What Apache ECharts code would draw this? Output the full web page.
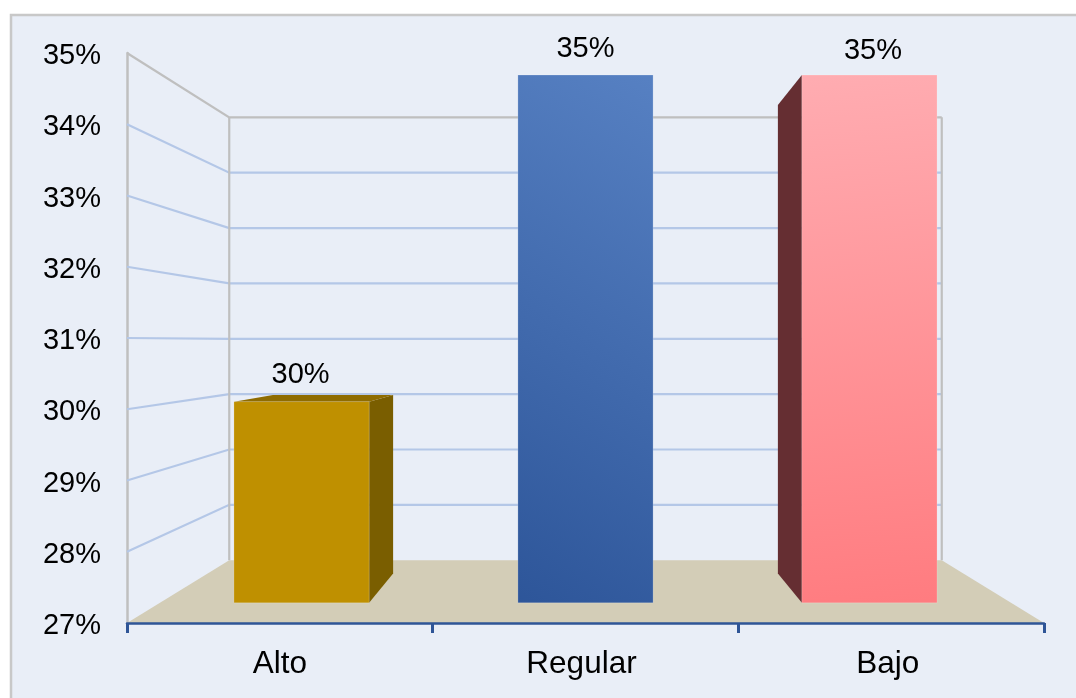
<!DOCTYPE html>
<html><head><meta charset="utf-8">
<style>html,body{margin:0;padding:0;background:#fff}#c{width:1076px;height:698px}</style>
<script src="https://cdn.jsdelivr.net/npm/echarts@6/dist/echarts.min.js"></script>
</head><body><div id="c"></div>
<script>
const categories = ['Alto', 'Regular', 'Bajo'];
const values = [30.05, 35, 35];
const valueLabels = ['30%', '35%', '35%'];
const wallTicks = [28, 29, 30, 31, 32, 33, 34, 35];
const axisMin = 27, axisMax = 35;

const FONT = '"Liberation Sans", Arial, sans-serif';
const WALL_S = 0.777, VP_Y_FRAC = 0.4939;
const BAR_FRONT = [0.929, 0.926], BAR_BACK = [0.826, 0.822], BAR_Y_SHIFT = 0.7;
const BAR_W = 0.476;
const LABEL_DX = [-1, 0, 3.5], LABEL_DY = [-27, -26.5, -24];

function vp(cs) { return [cs.x + cs.width / 2, cs.y + cs.height * (1 - VP_Y_FRAC)]; }
function proj(p, v, s) { return [v[0] + (p[0] - v[0]) * s, v[1] + (p[1] - v[1]) * s]; }
function proj2(p, v, s) { return [v[0] + (p[0] - v[0]) * s[0], v[1] + (p[1] - v[1]) * s[1] + BAR_Y_SHIFT]; }

const barFills = [
  { front: '#BF9000', side: '#7A5E00', top: '#8F6C00' },
  { front: { type: 'linear', x: -0.6, y: 1, x2: 1.6, y2: 0.05, colorStops: [{ offset: 0, color: '#2A5296' }, { offset: 1, color: '#5882C4' }] }, side: '#264478', top: '#264478' },
  { front: { type: 'linear', x: 0.7, y: 1, x2: 0.3, y2: 0, colorStops: [{ offset: 0, color: '#FF7C80' }, { offset: 1, color: '#FFACB1' }] }, side: '#652E32', top: '#652E32' }
];

function poly(points, fill, stroke) {
  return { type: 'polygon', shape: { points }, style: { fill, stroke: stroke || null, lineWidth: 1 } };
}

function renderWall(params, api) {
  const cs = params.coordSys, v = vp(cs), val = api.value(1);
  const y = api.coord([0, val])[1];
  const a = [cs.x, y], b = proj(a, v, WALL_S), c = proj([cs.x + cs.width, y], v, WALL_S);
  return {
    type: 'polyline', shape: { points: [a, b, c] },
    style: { fill: null, stroke: val === axisMax ? '#BFBFBF' : '#B4C7E7', lineWidth: 2.2 },
    silent: true
  };
}

function renderFloor(params, api) {
  const cs = params.coordSys, v = vp(cs);
  const base = cs.y + cs.height;
  const top = proj([cs.x, cs.y], v, WALL_S)[1], bot = proj([cs.x, base], v, WALL_S)[1];
  const l = proj([cs.x, base], v, WALL_S)[0], r = proj([cs.x + cs.width, base], v, WALL_S)[0];
  return {
    type: 'group', children: [
      { type: 'line', shape: { x1: l, y1: top, x2: l, y2: bot }, style: { stroke: '#BFBFBF', lineWidth: 2.2 } },
      { type: 'line', shape: { x1: r, y1: top, x2: r, y2: bot }, style: { stroke: '#BFBFBF', lineWidth: 2.2 } },
      poly([[cs.x, base], [cs.x + cs.width, base], [r, bot], [l, bot]], '#D3CDB7')
    ]
  };
}

function renderBar(params, api) {
  const cs = params.coordSys, v = vp(cs), i = api.value(0), val = api.value(1);
  const c = api.coord([i, val]), b = api.coord([i, axisMin]);
  const hw = api.size([1, 0])[0] * BAR_W / 2;
  const L = c[0] - hw, R = c[0] + hw, T = c[1], B = b[1];
  const f = (x, y) => proj2([x, y], v, BAR_FRONT), k = (x, y) => proj2([x, y], v, BAR_BACK);
  const fill = barFills[i], ch = [];
  const fl = f(L, T), fr = f(R, T);
  if (fl[0] > v[0] + 1) ch.push(poly([f(L, T), k(L, T), k(L, B), f(L, B)], fill.side));
  if (fr[0] < v[0] - 1) ch.push(poly([f(R, T), k(R, T), k(R, B), f(R, B)], fill.side));
  if (T > cs.y + 1) ch.push(poly([f(L, T), k(L, T), k(R, T), f(R, T)], fill.top));
  ch.push(poly([f(L, T), f(R, T), f(R, B), f(L, B)], fill.front, 'rgba(255,255,255,0.18)'));
  ch.push({
    type: 'text', silent: true,
    style: {
      text: valueLabels[i], x: (fl[0] + fr[0]) / 2 + LABEL_DX[i], y: fl[1] + LABEL_DY[i],
      align: 'center', verticalAlign: 'middle', fill: '#000', font: '29px ' + FONT
    }
  });
  return { type: 'group', children: ch };
}

const catText = { color: '#000', fontSize: 31.5, fontFamily: FONT };
const option = {
  animation: false,
  backgroundColor: '#fff',
  graphic: [{
    type: 'rect', z: -10, silent: true,
    shape: { x: 11, y: 15, width: 1100, height: 720 },
    style: { fill: '#E9EEF7', stroke: '#C8C8C8', lineWidth: 2.5 }
  }],
  grid: { left: 127, right: 32, top: 53, bottom: 75 },
  xAxis: {
    type: 'category', data: categories, boundaryGap: true,
    axisLine: { show: true, lineStyle: { color: '#2F5597', width: 2.5 } },
    axisTick: { show: true, length: 10, alignWithLabel: false, lineStyle: { color: '#2F5597', width: 3 } },
    axisLabel: {
      color: '#000', fontSize: 31.5, fontFamily: FONT, margin: 25,
      formatter: (name, idx) => '{' + ['a', 'b', 'c'][idx] + '|' + name + '}',
      rich: {
        a: Object.assign({ padding: [0, 0, 0, 0] }, catText),
        b: Object.assign({ padding: [0, 8, 0, 0] }, catText),
        c: Object.assign({ padding: [0, 7, 0, 0] }, catText)
      }
    },
    splitLine: { show: false }, z: 5
  },
  yAxis: {
    type: 'value', min: axisMin, max: axisMax, interval: 1,
    axisLine: { show: true, lineStyle: { color: '#BFBFBF', width: 2.5 } },
    axisTick: { show: false },
    splitLine: { show: false },
    axisLabel: {
      color: '#000', fontSize: 29, fontFamily: FONT, margin: 26,
      formatter: v => '{t|' + v + '%}',
      rich: { t: { color: '#000', fontSize: 29, fontFamily: FONT, padding: [6, 0, 0, 0] } }
    }
  },
  series: [
    { type: 'custom', z: 1, clip: false, silent: true, renderItem: renderWall, encode: { x: 0, y: 1 }, data: wallTicks.map(t => [0, t]) },
    { type: 'custom', z: 2, clip: false, silent: true, renderItem: renderFloor, encode: { x: 0, y: 1 }, data: [[0, axisMin]] },
    { type: 'custom', z: 3, clip: false, silent: true, renderItem: renderBar, encode: { x: 0, y: 1 }, data: values.map((v, i) => [i, v]) }
  ]
};
const chart = echarts.init(document.getElementById('c'), null, { renderer: 'canvas' });
chart.setOption(option);
</script></body></html>
